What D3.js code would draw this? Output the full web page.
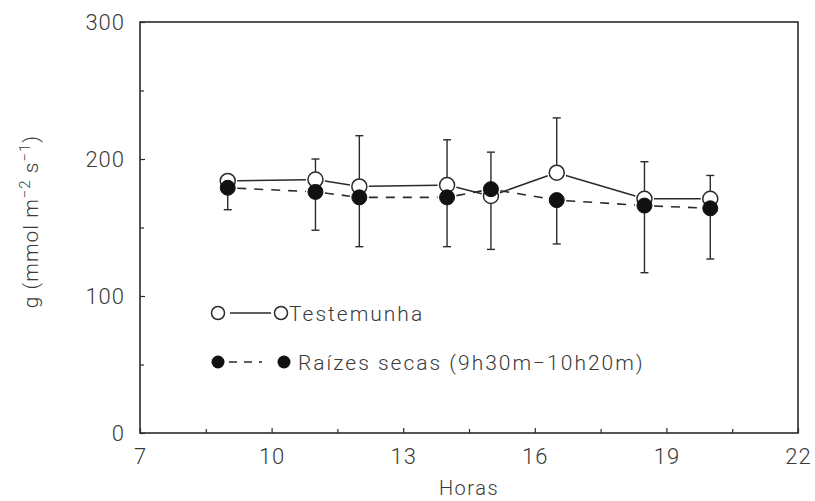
<!DOCTYPE html>
<html>
<head>
<meta charset="utf-8">
<script src="https://cdn.jsdelivr.net/npm/d3@7/dist/d3.min.js"></script>
<style>
  html, body { margin: 0; padding: 0; background: #fff; }
  svg { display: block; }
  text { font-family: Roboto, "Liberation Sans", sans-serif; font-weight: 300; fill: #3a3a3a; }
</style>
</head>
<body>
<svg id="chart" width="815" height="501"></svg>
<script>
// Stomatal conductance over the day: control vs. dried roots
const hours      = [9, 11, 12, 14, 15, 16.5, 18.5, 20];
const testemunha = [184, 185, 180, 181, 173, 190, 171, 171];
const testErr    = [4, 15, 37, 33, 32, 40, 27, 17];
const raizes     = [179, 176, 172, 172, 178, 170, 166, 164];
const raizErr    = [16, 28, 36, 36, 44, 32, 49, 37];

const xTicks      = [7, 10, 13, 16, 19, 22];
const xMinorTicks = [8.5, 11.5, 14.5, 17.5, 20.5];
const yTicks      = [0, 100, 200, 300];
const yMinorTicks = [50, 150, 250];

const legendLabels = ["Testemunha", "Raízes secas (9h30m\u221210h20m)"];

const svg = d3.select("#chart");
const ink = "#2b2b2b";

const x = d3.scaleLinear().domain([7, 22]).range([140, 798]);
const y = d3.scaleLinear().domain([0, 300]).range([433, 22]);

// frame
svg.append("rect")
  .attr("x", x(7)).attr("y", y(300))
  .attr("width", x(22) - x(7)).attr("height", y(0) - y(300))
  .attr("fill", "none").attr("stroke", ink).attr("stroke-width", 1.6);

// x axis (ticks pointing inward)
const gx = svg.append("g").attr("transform", `translate(0,${y(0)})`)
  .call(d3.axisBottom(x).tickValues(xTicks).tickSize(-5).tickPadding(15).tickFormat(d3.format("d")));
gx.select(".domain").remove();
gx.selectAll("line").attr("stroke", ink).attr("stroke-width", 1.2);
gx.selectAll("text").style("font-size", "22px").style("letter-spacing", "1px").attr("fill", "#3a3a3a");
svg.append("g").attr("transform", `translate(0,${y(0)})`)
  .call(d3.axisBottom(x).tickValues(xMinorTicks).tickSize(-4).tickFormat(""))
  .call(g => g.select(".domain").remove())
  .selectAll("line").attr("stroke", ink).attr("stroke-width", 1.2);

// y axis
const gy = svg.append("g").attr("transform", `translate(${x(7)},0)`)
  .call(d3.axisLeft(y).tickValues(yTicks).tickSize(-5).tickPadding(15).tickFormat(d3.format("d")));
gy.select(".domain").remove();
gy.selectAll("line").attr("stroke", ink).attr("stroke-width", 1.2);
gy.selectAll("text").style("font-size", "22px").style("letter-spacing", "1px").attr("fill", "#3a3a3a");
svg.append("g").attr("transform", `translate(${x(7)},0)`)
  .call(d3.axisLeft(y).tickValues(yMinorTicks).tickSize(-4).tickFormat(""))
  .call(g => g.select(".domain").remove())
  .selectAll("line").attr("stroke", ink).attr("stroke-width", 1.2);

// axis titles
svg.append("text")
  .attr("x", (x(7) + x(22)) / 2).attr("y", 495)
  .attr("text-anchor", "middle")
  .style("font-size", "20px").style("letter-spacing", "1.5px")
  .text("Horas");

const yTitle = svg.append("text")
  .attr("transform", `translate(38,${(y(0) + y(300)) / 2 - 6}) rotate(-90)`)
  .attr("text-anchor", "middle")
  .style("font-size", "21px").style("letter-spacing", "1px");
yTitle.append("tspan").text("g (mmol m");
yTitle.append("tspan").attr("dy", -8).style("font-size", "15px").text("\u22122");
yTitle.append("tspan").attr("dy", 8).text(" s");
yTitle.append("tspan").attr("dy", -8).style("font-size", "15px").text("\u22121");
yTitle.append("tspan").attr("dy", 8).text(")");

const R = 7.5;

// connecting segments, trimmed at the marker edges
function segments(vals) {
  const out = [];
  for (let i = 0; i < hours.length - 1; i++) {
    const x1 = x(hours[i]), y1 = y(vals[i]);
    const x2 = x(hours[i + 1]), y2 = y(vals[i + 1]);
    const len = Math.hypot(x2 - x1, y2 - y1);
    const ux = (x2 - x1) / len, uy = (y2 - y1) / len;
    const g = R + 2;
    out.push([x1 + ux * g, y1 + uy * g, x2 - ux * g, y2 - uy * g]);
  }
  return out;
}

svg.append("g").selectAll("line").data(segments(testemunha)).join("line")
  .attr("x1", d => d[0]).attr("y1", d => d[1]).attr("x2", d => d[2]).attr("y2", d => d[3])
  .attr("stroke", ink).attr("stroke-width", 1.6);

svg.append("g").selectAll("line").data(segments(raizes)).join("line")
  .attr("x1", d => d[0]).attr("y1", d => d[1]).attr("x2", d => d[2]).attr("y2", d => d[3])
  .attr("stroke", ink).attr("stroke-width", 1.6).attr("stroke-dasharray", "9,8");

// error bars: upward for the control, downward for dried roots
function errorBars(vals, errs, dir) {
  const g = svg.append("g").attr("stroke", ink).attr("stroke-width", 1.4);
  hours.forEach((h, i) => {
    const cx = x(h), y0 = y(vals[i]), y1 = y(vals[i] + dir * errs[i]);
    g.append("line").attr("x1", cx).attr("x2", cx).attr("y1", y0).attr("y2", y1);
    g.append("line").attr("x1", cx - 4).attr("x2", cx + 4).attr("y1", y1).attr("y2", y1);
  });
}
errorBars(testemunha, testErr, 1);
errorBars(raizes, raizErr, -1);

// markers
svg.append("g").selectAll("circle").data(hours).join("circle")
  .attr("cx", d => x(d)).attr("cy", (d, i) => y(testemunha[i])).attr("r", R)
  .attr("fill", "#fff").attr("stroke", ink).attr("stroke-width", 1.5);
svg.append("g").selectAll("circle").data(hours).join("circle")
  .attr("cx", d => x(d)).attr("cy", (d, i) => y(raizes[i])).attr("r", R)
  .attr("fill", "#111").attr("stroke", "#111").attr("stroke-width", 1);

// legend
const lg = svg.append("g");
const rows = [313, 362];
const lr = 6.5;
// control row
lg.append("circle").attr("cx", 218).attr("cy", rows[0]).attr("r", lr)
  .attr("fill", "#fff").attr("stroke", ink).attr("stroke-width", 1.5);
lg.append("line").attr("x1", 230).attr("x2", 271).attr("y1", rows[0]).attr("y2", rows[0])
  .attr("stroke", ink).attr("stroke-width", 1.6);
lg.append("circle").attr("cx", 281).attr("cy", rows[0]).attr("r", lr)
  .attr("fill", "#fff").attr("stroke", ink).attr("stroke-width", 1.5);
lg.append("text").attr("x", 289).attr("y", rows[0] + 8)
  .style("font-size", "21px").style("letter-spacing", "2px").text(legendLabels[0]);
// dried roots row
lg.append("circle").attr("cx", 218).attr("cy", rows[1]).attr("r", lr).attr("fill", "#111");
lg.append("line").attr("x1", 229).attr("x2", 262).attr("y1", rows[1]).attr("y2", rows[1])
  .attr("stroke", ink).attr("stroke-width", 1.6).attr("stroke-dasharray", "8,7");
lg.append("circle").attr("cx", 284).attr("cy", rows[1]).attr("r", lr).attr("fill", "#111");
lg.append("text").attr("x", 298).attr("y", rows[1] + 8)
  .style("font-size", "21px").style("letter-spacing", "2px").text(legendLabels[1]);
</script>
</body>
</html>
